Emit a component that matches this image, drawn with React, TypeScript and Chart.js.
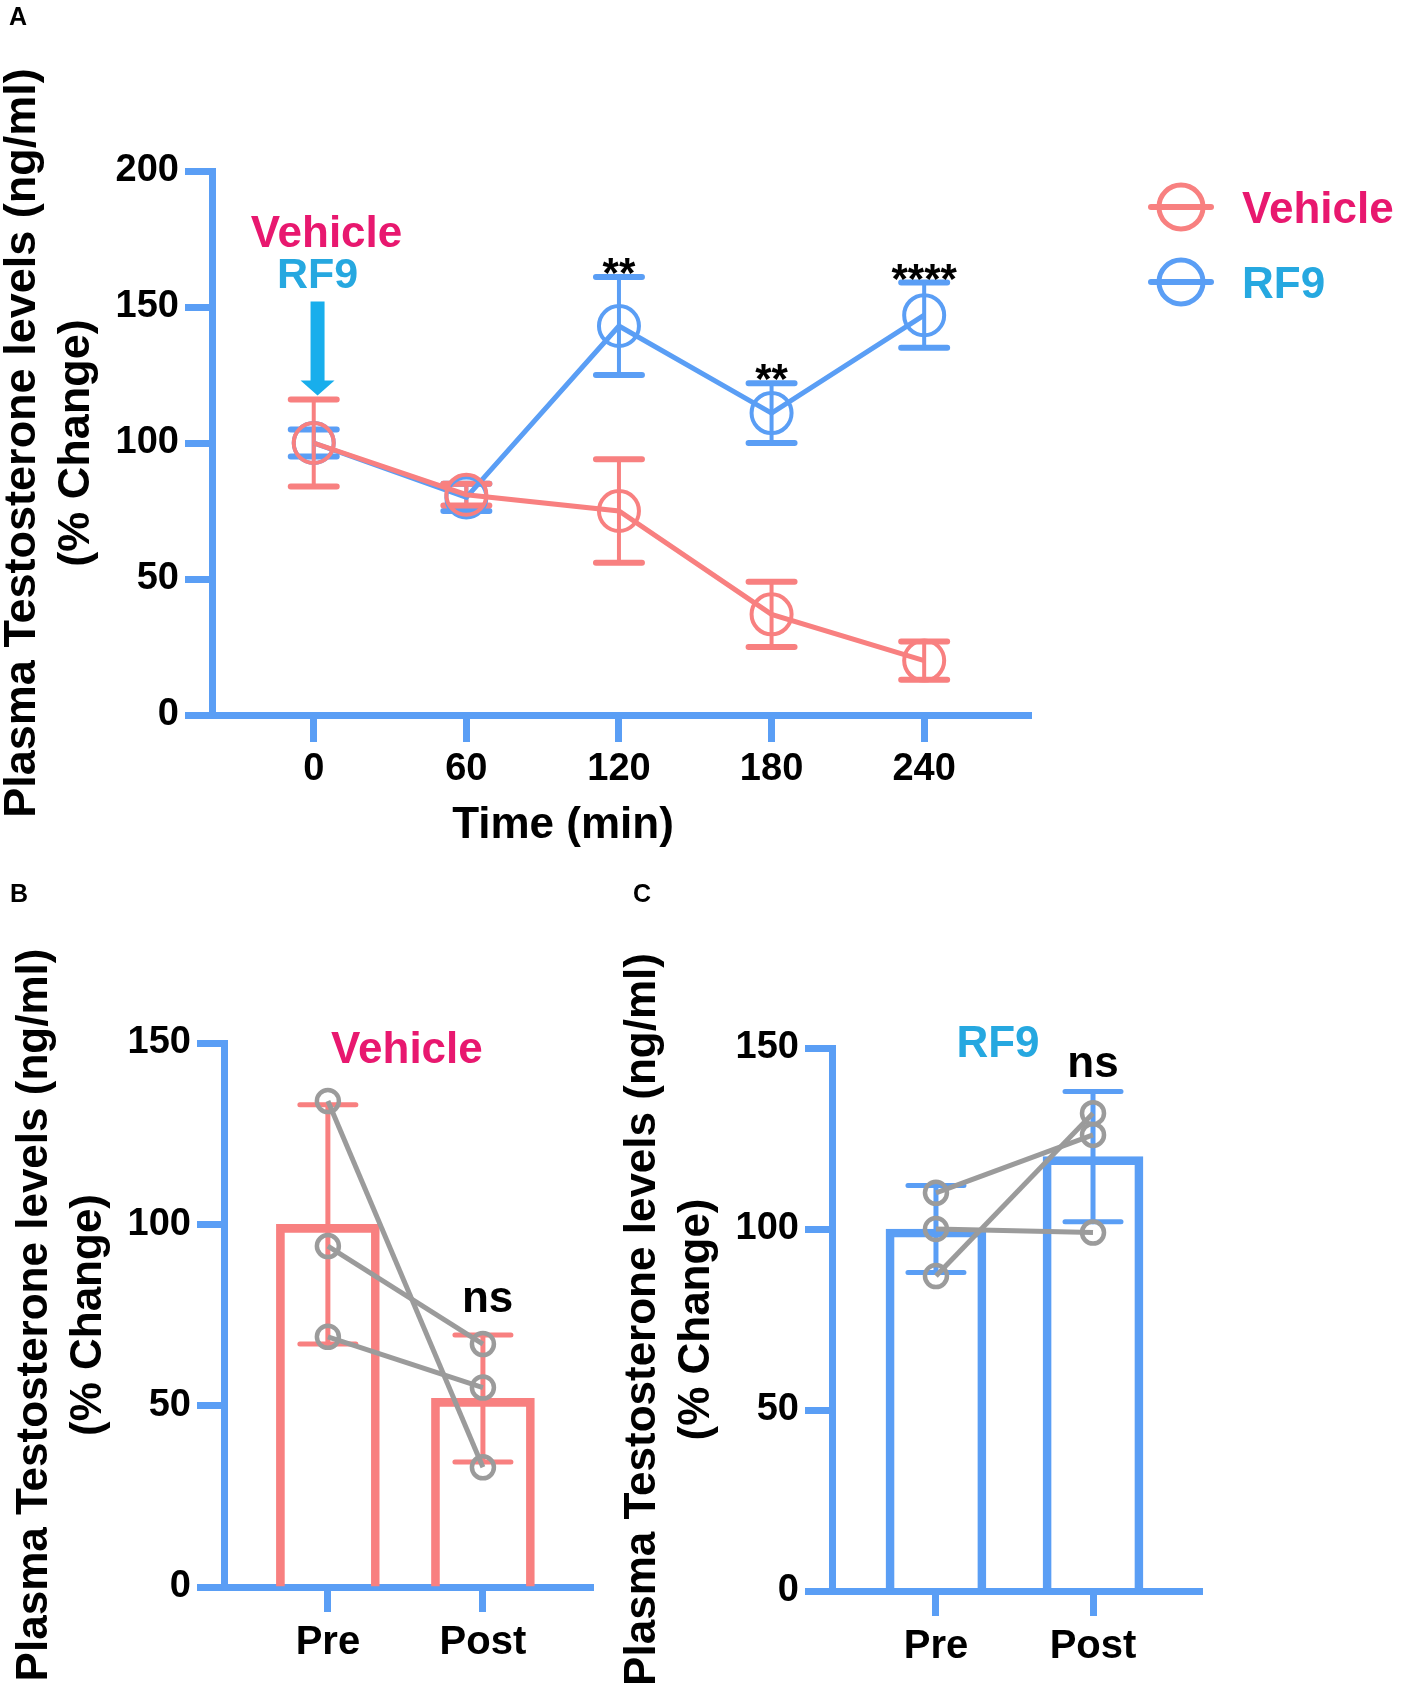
import { useEffect, useRef } from 'react';
import { Chart, registerables } from 'chart.js';

Chart.register(...registerables);

const FONT = '"Liberation Sans", Arial, Helvetica, sans-serif';
const BLUE = '#5A9EF5';
const SALMON = '#F88080';
const MAGENTA = '#E8186F';
const CYAN = '#26A8E0';
const ARROW = '#18AEEC';
const GRAY = '#9B9B9B';

// Panel A: time course
const timePoints = [0, 60, 120, 180, 240];
const vehicleMean = [100, 81, 75, 37, 20];
const vehicleErr = [16, 4, 19, 12, 7];
const rf9Mean = [100, 80, 143, 111, 147];
const rf9Err = [5, 5, 18, 11, 12];
const rf9Stars = ['', '', '**', '**', '****'];
const yTicksA = [0, 50, 100, 150, 200];

// Panels B and C: pre / post
const phases = ['Pre', 'Post'];
const phaseX = [1, 2];
const yTicksBC = [0, 50, 100, 150];

const vehicleBarMean = [100, 52];
const vehicleBarErr = [33, 17.5];
const vehiclePre = [134, 94, 69];
const vehiclePost = [33, 67, 55];

const rf9BarMean = [100, 120];
const rf9BarErr = [12, 18];
const rf9Pre = [110, 100, 87];
const rf9Post = [126, 99, 132];

const yTitle = ['Plasma Testosterone levels (ng/ml)', '(% Change)'];

const bold = (size: number, lineHeight = 1.2) => ({ family: FONT, size, weight: 'bold' as const, lineHeight });

// draws mean +/- err bars using the chart's own scales
const errorBarsPlugin = (groups: any[]) => ({
  id: 'errorBars',
  beforeDatasetsDraw(chart: any) {
    const { ctx, scales } = chart;
    ctx.save();
    ctx.lineCap = 'round';
    groups.forEach((g) => {
      g.xs.forEach((xv: number, i: number) => {
        const px = scales.x.getPixelForValue(xv);
        const top = scales.y.getPixelForValue(g.means[i] + g.errs[i]);
        const bot = scales.y.getPixelForValue(g.means[i] - g.errs[i]);
        ctx.strokeStyle = g.color;
        ctx.lineWidth = g.lineWidth;
        ctx.beginPath();
        ctx.moveTo(px, top);
        ctx.lineTo(px, bot);
        ctx.stroke();
        ctx.lineWidth = g.capWidth;
        ctx.beginPath();
        ctx.moveTo(px - g.capHalf, top);
        ctx.lineTo(px + g.capHalf, top);
        ctx.moveTo(px - g.capHalf, bot);
        ctx.lineTo(px + g.capHalf, bot);
        ctx.stroke();
      });
    });
    ctx.restore();
  },
});

const drawText = (ctx: any, text: string, x: number, y: number, font: string, color: string, align = 'center') => {
  ctx.save();
  ctx.font = font;
  ctx.fillStyle = color;
  ctx.textAlign = align;
  ctx.textBaseline = 'alphabetic';
  ctx.fillText(text, x, y);
  ctx.restore();
};

const axisCommon = (tickLength: number) => ({
  grid: { drawOnChartArea: false, offset: false, tickLength, tickWidth: 7, tickColor: BLUE },
  border: { color: BLUE, width: 7 },
});

function PanelA() {
  const ref = useRef<HTMLCanvasElement>(null);

  useEffect(() => {
    if (!ref.current) return;

    const annotations = {
      id: 'annotationsA',
      afterDraw(chart: any) {
        const { ctx, scales: { x, y }, chartArea } = chart;
        drawText(ctx, 'A', 9, 25, `bold 25px ${FONT}`, '#000', 'left');
        // x axis title sits left of the axis centre in the original
        drawText(ctx, 'Time (min)', x.getPixelForValue(98), chartArea.bottom + 123, `bold 44px ${FONT}`, '#000');
        drawText(ctx, 'Vehicle', x.getPixelForValue(5), y.getPixelForValue(172), `bold 44px ${FONT}`, MAGENTA);
        drawText(ctx, 'RF9', x.getPixelForValue(1.5), y.getPixelForValue(157), `bold 43px ${FONT}`, CYAN);

        // arrow pointing at the injection time
        const ax = x.getPixelForValue(1.5);
        const aTop = y.getPixelForValue(152);
        const aNeck = y.getPixelForValue(123);
        const aTip = y.getPixelForValue(117.5);
        ctx.save();
        ctx.fillStyle = ARROW;
        ctx.beginPath();
        ctx.moveTo(ax - 7, aTop);
        ctx.lineTo(ax + 7, aTop);
        ctx.lineTo(ax + 7, aNeck);
        ctx.lineTo(ax + 17, aNeck);
        ctx.lineTo(ax, aTip);
        ctx.lineTo(ax - 17, aNeck);
        ctx.lineTo(ax - 7, aNeck);
        ctx.closePath();
        ctx.fill();
        ctx.restore();

        // significance marks
        timePoints.forEach((t, i) => {
          if (!rf9Stars[i]) return;
          const py = y.getPixelForValue(rf9Mean[i] + rf9Err[i]);
          drawText(ctx, rf9Stars[i], x.getPixelForValue(t), py + 10, `bold 42px ${FONT}`, '#000');
        });

        // legend
        const lx = chartArea.right + 150;
        const items = [
          { label: 'Vehicle', line: SALMON, text: MAGENTA, y: chartArea.top + 36 },
          { label: 'RF9', line: BLUE, text: CYAN, y: chartArea.top + 111 },
        ];
        items.forEach((it) => {
          ctx.save();
          ctx.strokeStyle = it.line;
          ctx.lineWidth = 6;
          ctx.lineCap = 'round';
          ctx.beginPath();
          ctx.moveTo(lx - 30, it.y);
          ctx.lineTo(lx + 30, it.y);
          ctx.stroke();
          ctx.lineWidth = 5;
          ctx.beginPath();
          ctx.arc(lx, it.y, 22, 0, Math.PI * 2);
          ctx.stroke();
          ctx.restore();
          drawText(ctx, it.label, lx + 61, it.y + 16, `bold 44px ${FONT}`, it.text, 'left');
        });
      },
    };

    const chart = new Chart(ref.current, {
      type: 'line',
      data: {
        datasets: [
          {
            label: 'Vehicle',
            data: timePoints.map((t, i) => ({ x: t, y: vehicleMean[i] })),
            borderColor: SALMON,
            borderWidth: 5,
            pointRadius: 20,
            pointBorderWidth: 4,
            pointBorderColor: SALMON,
            pointBackgroundColor: 'rgba(0,0,0,0)',
            clip: false,
          },
          {
            label: 'RF9',
            data: timePoints.map((t, i) => ({ x: t, y: rf9Mean[i] })),
            borderColor: BLUE,
            borderWidth: 5,
            pointRadius: 20,
            pointBorderWidth: 4,
            pointBorderColor: BLUE,
            pointBackgroundColor: 'rgba(0,0,0,0)',
            clip: false,
          },
        ],
      },
      options: {
        animation: false,
        responsive: false,
        layout: { padding: { top: 171, right: 371, left: 0, bottom: 0 } },
        plugins: { legend: { display: false }, tooltip: { enabled: false } },
        scales: {
          x: {
            type: 'linear',
            min: -40,
            max: 282,
            afterBuildTicks: (s: any) => { s.ticks = timePoints.map((v) => ({ value: v })); },
            afterFit: (s: any) => { s.height = 165; },
            ...axisCommon(27),
            ticks: { font: bold(38), color: '#000', padding: 5 },
          },
          y: {
            min: 0,
            max: 200,
            afterBuildTicks: (s: any) => { s.ticks = yTicksA.map((v) => ({ value: v })); },
            afterFit: (s: any) => { s.width = 212; },
            ...axisCommon(27),
            ticks: { font: bold(38), color: '#000', padding: 6 },
            title: { display: true, text: yTitle, color: '#000', font: bold(45, 1.2), padding: { top: -4, bottom: 0 } },
          },
        },
      },
      plugins: [
        errorBarsPlugin([
          { xs: timePoints, means: rf9Mean, errs: rf9Err, color: BLUE, lineWidth: 4, capWidth: 6, capHalf: 23 },
          { xs: timePoints, means: vehicleMean, errs: vehicleErr, color: SALMON, lineWidth: 4, capWidth: 6, capHalf: 23 },
        ]),
        annotations,
      ],
    } as any);

    return () => chart.destroy();
  }, []);

  return <canvas ref={ref} width={1402} height={880} style={{ position: 'absolute', left: 0, top: 0 }} />;
}

type PairProps = {
  letter: string;
  left: number;
  width: number;
  color: string;
  title: string;
  titleColor: string;
  means: number[];
  errs: number[];
  pre: number[];
  post: number[];
  layout: any;
};

function PairPanel(p: PairProps) {
  const ref = useRef<HTMLCanvasElement>(null);

  useEffect(() => {
    if (!ref.current) return;
    const L = p.layout;

    const annotations = {
      id: 'annotationsPair',
      afterDraw(chart: any) {
        const { ctx, scales: { x, y } } = chart;
        drawText(ctx, p.letter, L.letterX, 42, `bold 25px ${FONT}`, '#000', 'left');
        drawText(ctx, p.title, x.getPixelForValue(L.titleX), y.getPixelForValue(L.titleY), `bold 44px ${FONT}`, p.titleColor);
        drawText(ctx, 'ns', x.getPixelForValue(L.nsX), y.getPixelForValue(L.nsY), `bold 44px ${FONT}`, '#000');
      },
    };

    const pairs = p.pre.map((v, i) => ({
      type: 'line',
      data: [{ x: phaseX[0], y: v }, { x: phaseX[1], y: p.post[i] }],
      borderColor: GRAY,
      borderWidth: 5,
      pointRadius: 11,
      pointBorderWidth: 4.5,
      pointBorderColor: GRAY,
      pointBackgroundColor: 'rgba(0,0,0,0)',
      order: 0,
      clip: false,
    }));

    const chart = new Chart(ref.current, {
      type: 'bar',
      data: {
        datasets: [
          {
            type: 'bar',
            data: phaseX.map((xv, i) => ({ x: xv, y: p.means[i] })),
            borderColor: p.color,
            backgroundColor: 'rgba(0,0,0,0)',
            borderWidth: 8,
            barThickness: L.barThickness,
            order: 1,
          },
          ...pairs,
        ],
      },
      options: {
        animation: false,
        responsive: false,
        layout: { padding: { top: L.top, right: L.right, left: 0, bottom: 0 } },
        plugins: { legend: { display: false }, tooltip: { enabled: false } },
        scales: {
          x: {
            type: 'linear',
            offset: false,
            min: L.xMin,
            max: L.xMax,
            afterBuildTicks: (s: any) => { s.ticks = phaseX.map((v) => ({ value: v })); },
            afterFit: (s: any) => { s.height = L.xHeight; },
            ...axisCommon(25),
            ticks: { font: bold(40), color: '#000', padding: 7, callback: (v: number) => phases[phaseX.indexOf(v)] },
          },
          y: {
            min: 0,
            max: 150,
            afterBuildTicks: (s: any) => { s.ticks = yTicksBC.map((v) => ({ value: v })); },
            afterFit: (s: any) => { s.width = L.yWidth; },
            ...axisCommon(27),
            ticks: { font: bold(38), color: '#000', padding: 6 },
            title: { display: true, text: yTitle, color: '#000', font: bold(44, 1.23), padding: { top: L.titlePad, bottom: 0 } },
          },
        },
      },
      plugins: [
        errorBarsPlugin([
          { xs: phaseX, means: p.means, errs: p.errs, color: p.color, lineWidth: 5, capWidth: 5, capHalf: 28 },
        ]),
        annotations,
      ],
    } as any);

    return () => chart.destroy();
  }, []);

  return (
    <canvas ref={ref} width={p.width} height={834} style={{ position: 'absolute', left: p.left, top: 860 }} />
  );
}

export default function App() {
  return (
    <div style={{ position: 'absolute', left: 0, top: 0, width: 1402, height: 1694, background: '#fff', overflow: 'hidden' }}>
      <PanelA />
      <PairPanel
        letter="B"
        left={0}
        width={610}
        color={SALMON}
        title="Vehicle"
        titleColor={MAGENTA}
        means={vehicleBarMean}
        errs={vehicleBarErr}
        pre={vehiclePre}
        post={vehiclePost}
        layout={{ letterX: 10, top: 183, right: 17, yWidth: 224, xHeight: 107, xMin: 0.33, xMax: 2.71, barThickness: 103, titlePad: 8, titleX: 1.51, titleY: 144.5, nsX: 2.03, nsY: 75.8 }}
      />
      <PairPanel
        letter="C"
        left={610}
        width={792}
        color={BLUE}
        title="RF9"
        titleColor={CYAN}
        means={rf9BarMean}
        errs={rf9BarErr}
        pre={rf9Pre}
        post={rf9Post}
        layout={{ letterX: 23, top: 188, right: 200, yWidth: 222, xHeight: 103, xMin: 0.338, xMax: 2.694, barThickness: 100, titlePad: 6, titleX: 1.395, titleY: 147.5, nsX: 2.0, nsY: 142 }}
      />
    </div>
  );
}
